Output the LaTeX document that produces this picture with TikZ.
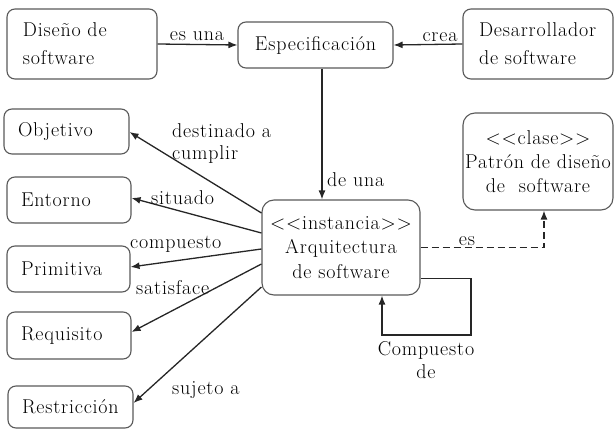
\documentclass[tikz,border=0pt]{standalone}
\usepackage{fontspec}
\setmainfont{Latin Modern Roman}[LetterSpace=4]
\usetikzlibrary{arrows.meta,calc}
\begin{document}
\begin{tikzpicture}[x=1pt,y=-1pt,
  font=\fontsize{20}{23}\selectfont,
  box/.style={draw=black!65,line width=1.1pt,rounded corners=8pt,inner sep=0pt},
  lbox/.style={box,align=left,inner xsep=14pt},
  arr/.style={draw=black!85,line width=1.3pt,-{Latex[length=9pt,width=7pt]}},
  lbl/.style={inner sep=0pt}]
\useasboundingbox (0,0) rectangle (614,430);
% top row
\node[lbox,inner xsep=16pt,text width=118pt,minimum height=70pt,font=\fontsize{20}{28}\selectfont] (dis) at (82,44) {Diseño de\\software};
\node[box,minimum width=155pt,minimum height=46pt] (esp) at (315.5,45) {Especificación};
\node[lbox,inner xsep=16pt,text width=118pt,minimum height=70pt,font=\fontsize{20}{28}\selectfont] (des) at (538,44) {Desarrollador\\de software};
% left column
\node[lbox,minimum height=45pt,text width=97pt] (obj) at (66.5,131.5) {Objetivo};
\node[lbox,minimum height=46pt,text width=96pt] (ent) at (69,200) {Entorno};
\node[lbox,minimum height=46pt,text width=95pt] (pri) at (68.5,269) {Primitiva};
\node[lbox,minimum height=47pt,text width=96pt] (req) at (69,335.5) {Requisito};
\node[lbox,minimum height=42pt,text width=97pt] (res) at (70.5,407) {Restricción};
% center
\node[box,minimum width=158pt,minimum height=95pt,align=center,rounded corners=12pt,font=\fontsize{20}{24.5}\selectfont] (arq) at (341,247.5) {<{}<instancia>{}>\\Arquitectura\\de software};
\node[box,minimum width=150pt,minimum height=97pt,align=center,rounded corners=12pt,font=\fontsize{20}{24}\selectfont] (pat) at (538,161.5) {<{}<clase>{}>\\Patrón de diseño\\de~ software};
% connectors
\draw[arr] (dis.east) -- (esp.west);
\node[lbl] (l1) at (197,36) {es una};
\draw[arr] (des.west) -- (esp.east);
\node[lbl] (l2) at (440,37) {crea};
\draw[arr] ([xshift=6.5pt]esp.south) -- ([xshift=6.5pt]esp.south |- arq.north);
\node[lbl,anchor=west] (l3) at (327,180) {de una};
\draw[arr] ([yshift=34.5pt]arq.west) -- ([yshift=-0.5pt]obj.east);
\draw[arr] ([yshift=14.5pt]arq.west) -- ([yshift=2pt]ent.east);
\draw[arr] ([yshift=-1.5pt]arq.west) -- ([yshift=2pt]pri.east);
\draw[arr] ([yshift=-16.5pt]arq.west) -- ([yshift=3.5pt]req.east);
\draw[arr] ([yshift=-39.5pt]arq.west) -- ([yshift=4pt]res.east);
\node[lbl,anchor=west,align=left,font=\fontsize{20}{22}\selectfont] (l4) at (172,144) {destinado a\\cumplir};
\node[lbl,anchor=west] (l5) at (151,198) {situado};
\node[lbl,anchor=west] (l6) at (130,244) {compuesto};
\node[lbl,anchor=west] (l7) at (136,288) {satisface};
\node[lbl,anchor=west] (l8) at (172,390) {sujeto a};
% dashed
\draw[arr,dash pattern=on 7pt off 4pt] (arq.east) -| ([xshift=6pt]pat.south);
\node[lbl] (l9) at (467,241) {es};
% self loop
\coordinate (lp) at (471,335);
\draw[arr] ([yshift=-31pt]arq.east) -| (lp) -| ([xshift=41pt]arq.south);
\node[lbl,align=center] (l10) at (426,360) {Compuesto\\de};
\end{tikzpicture}
\end{document}
